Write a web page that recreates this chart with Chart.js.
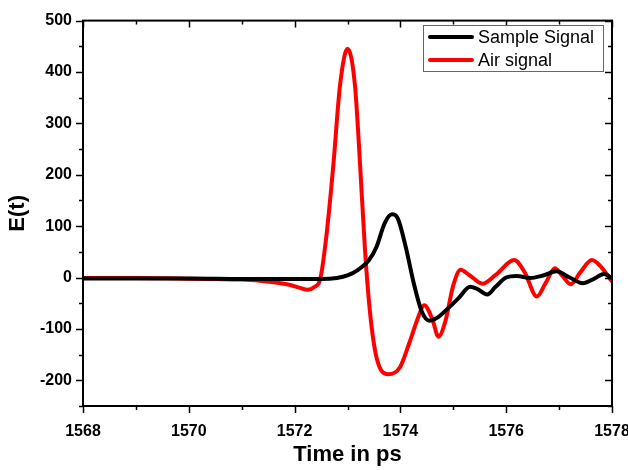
<!DOCTYPE html>
<html>
<head>
<meta charset="utf-8">
<script src="https://cdn.jsdelivr.net/npm/chart.js@4.4.0/dist/chart.umd.min.js"></script>
<style>
  html, body { margin: 0; padding: 0; background: #fff; }
</style>
</head>
<body>
<canvas id="chart" width="628" height="470"></canvas>
<script>
// values
const sampleTime = [1568, 1569, 1570, 1571, 1572, 1572.5, 1572.8, 1573.0, 1573.2, 1573.4, 1573.55, 1573.7, 1573.84, 1573.95, 1574.1, 1574.25, 1574.4, 1574.55, 1574.7, 1574.9, 1575.1, 1575.32, 1575.45, 1575.64, 1575.8, 1576.0, 1576.2, 1576.45, 1576.7, 1576.95, 1577.2, 1577.45, 1577.65, 1577.85, 1578];
const sampleSignal = [-2, -2, -2, -3, -3, -3, -1, 4, 15, 33, 60, 105, 123, 115, 60, -10, -65, -84, -78, -60, -40, -18, -22, -33, -18, 0, 3, -1, 4, 12, 0, -11, -3, 7, -1];

const airTime = [1568, 1569, 1569.8, 1570.5, 1571, 1571.5, 1571.9, 1572.1, 1572.25, 1572.38, 1572.48, 1572.6, 1572.73, 1572.86, 1573.0, 1573.14, 1573.24, 1573.33, 1573.43, 1573.55, 1573.77, 1573.99, 1574.18, 1574.33, 1574.45, 1574.6, 1574.72, 1574.85, 1575.0, 1575.14, 1575.3, 1575.55, 1575.8, 1576.15, 1576.35, 1576.58, 1576.75, 1576.92, 1577.05, 1577.22, 1577.4, 1577.62, 1577.8, 1578];
const airSignal = [-1, -1, -2, -3, -4, -8, -14, -20, -24, -18, -5, 80, 216, 375, 445, 375, 216, 55, -72, -156, -188, -175, -124, -79, -54, -80, -115, -85, -15, 15, 5, -12, 5, 34, 10, -37, -10, 18, 5, -13, 10, 34, 20, -8];

const xTicks = [1568, 1570, 1572, 1574, 1576, 1578];
const xMinorTicks = [1569, 1571, 1573, 1575, 1577];
const yTicks = [-200, -100, 0, 100, 200, 300, 400, 500];
const yMinorTicks = [-250, -150, -50, 50, 150, 250, 350, 450];

const FONT = "'Liberation Sans', Arial, sans-serif";

function toPoints(xs, ys) {
    return xs.map((x, i) => ({ x: x, y: ys[i] }));
}

// frame, tick marks (outer on bottom/left, inner on top/right) and legend box
const framePlugin = {
    id: 'frame',
    afterDraw(chart) {
        const ctx = chart.ctx;
        const a = chart.chartArea;
        const xs = chart.scales.x;
        const ys = chart.scales.y;
        ctx.save();
        ctx.strokeStyle = '#000';
        ctx.lineWidth = 2;
        ctx.strokeRect(a.left, a.top, a.right - a.left, a.bottom - a.top);

        ctx.lineWidth = 1.5;
        const tickX = (v, len) => {
            const px = Math.round(xs.getPixelForValue(v)) + 0.5;
            ctx.beginPath();
            ctx.moveTo(px, a.bottom); ctx.lineTo(px, a.bottom + len);
            ctx.moveTo(px, a.top); ctx.lineTo(px, a.top + len);
            ctx.stroke();
        };
        const tickY = (v, len) => {
            const py = Math.round(ys.getPixelForValue(v)) + 0.5;
            ctx.beginPath();
            ctx.moveTo(a.left, py); ctx.lineTo(a.left - len, py);
            ctx.moveTo(a.right, py); ctx.lineTo(a.right - len, py);
            ctx.stroke();
        };
        xTicks.forEach(v => tickX(v, 7));
        xMinorTicks.forEach(v => tickX(v, 4));
        yTicks.forEach(v => tickY(v, 7));
        yMinorTicks.forEach(v => tickY(v, 4));

        // legend
        const lx = 423.5, ly = 25.5, lw = 180, lh = 46;
        ctx.fillStyle = '#fff';
        ctx.fillRect(lx, ly, lw, lh);
        ctx.strokeStyle = '#666';
        ctx.lineWidth = 1;
        ctx.strokeRect(lx, ly, lw, lh);
        ctx.font = '18px ' + FONT;
        ctx.textBaseline = 'middle';
        ctx.textAlign = 'left';
        chart.data.datasets.forEach((ds, i) => {
            const y = 37 + i * 23;
            ctx.strokeStyle = ds.borderColor;
            ctx.lineWidth = 4;
            ctx.lineCap = 'round';
            ctx.beginPath();
            ctx.moveTo(430, y); ctx.lineTo(472, y);
            ctx.stroke();
            ctx.fillStyle = '#000';
            ctx.fillText(ds.label, 478, y + 1);
        });
        ctx.restore();
    }
};

new Chart(document.getElementById('chart'), {
    type: 'line',
    data: {
        datasets: [
            {
                label: 'Sample Signal',
                data: toPoints(sampleTime, sampleSignal),
                borderColor: '#000000',
                borderWidth: 4,
                pointRadius: 0,
                cubicInterpolationMode: 'monotone'
            },
            {
                label: 'Air signal',
                data: toPoints(airTime, airSignal),
                borderColor: '#ff0000',
                borderWidth: 4,
                pointRadius: 0,
                cubicInterpolationMode: 'monotone'
            }
        ]
    },
    options: {
        responsive: false,
        animation: false,
        devicePixelRatio: 1,
        layout: { padding: { top: 15, right: 16, left: 0, bottom: 0 } },
        plugins: { legend: { display: false }, tooltip: { enabled: false } },
        scales: {
            x: {
                type: 'linear',
                min: 1568,
                max: 1578,
                afterBuildTicks: s => { s.ticks = xTicks.map(v => ({ value: v })); },
                afterFit: s => { s.height = 64; s.paddingLeft = 0; s.paddingRight = 0; },
                grid: { display: false, drawTicks: false },
                border: { display: false },
                ticks: {
                    color: '#000',
                    padding: 16,
                    maxRotation: 0,
                    callback: v => String(v),
                    font: { family: FONT, size: 16, weight: 'bold' }
                },
                title: {
                    display: true,
                    text: 'Time in ps',
                    color: '#000',
                    padding: { top: 4, bottom: 2 },
                    font: { family: FONT, size: 22, weight: 'bold' }
                }
            },
            y: {
                min: -250,
                max: 500,
                afterBuildTicks: s => { s.ticks = yTicks.map(v => ({ value: v })); },
                afterFit: s => { s.width = 83; },
                grid: { display: false, drawTicks: false },
                border: { display: false },
                ticks: {
                    color: '#000',
                    padding: 11,
                    callback: v => String(v),
                    font: { family: FONT, size: 16, weight: 'bold' }
                },
                title: {
                    display: true,
                    text: 'E(t)',
                    color: '#000',
                    padding: { top: 5, bottom: 0 },
                    font: { family: FONT, size: 22, weight: 'bold' }
                }
            }
        }
    },
    plugins: [framePlugin]
});
</script>
</body>
</html>
